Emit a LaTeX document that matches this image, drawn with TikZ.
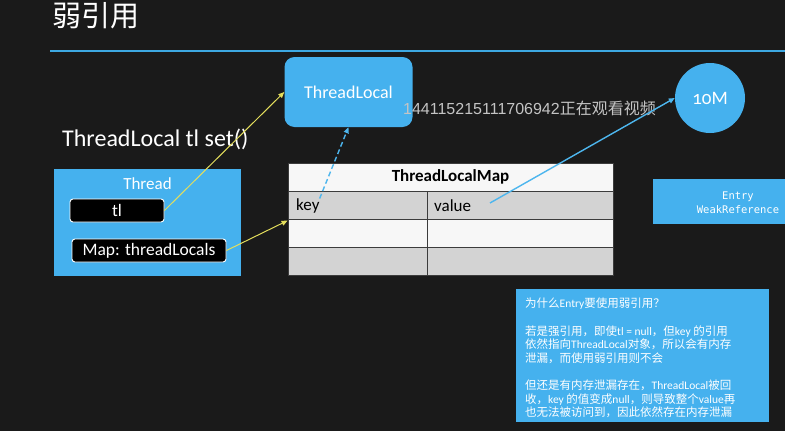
\documentclass[tikz,border=0pt]{standalone}
\usepackage{fontspec}
\setmainfont{Carlito}
\newfontfamily\cjk{Noto Sans CJK SC}
\newfontfamily\monofont{DejaVu Sans Mono}
\newfontfamily\wmfont{Liberation Sans}
\newfontfamily\oldnum{Carlito}[Numbers=OldStyle]
\usetikzlibrary{arrows.meta}
\definecolor{bg}{HTML}{1A1A1A}
\definecolor{sky}{HTML}{45B1EE}
\definecolor{skyline}{HTML}{3DA8E2}
\definecolor{arrowblue}{HTML}{4DB6EE}
\definecolor{yel}{HTML}{E4DE5C}
\definecolor{cellgray}{HTML}{D3D3D3}
\definecolor{cellwhite}{HTML}{F7F7F7}
\definecolor{gridc}{HTML}{3C3C3C}
\definecolor{wmgray}{HTML}{C4C4C4}
\newcommand\en[1]{{\rmfamily #1}}
\begin{document}
\begin{tikzpicture}[x=1pt,y=-1pt,
  bluebox/.style={fill=sky, draw=none, inner sep=0pt},
  darkbox/.style={fill=black, draw=white, line width=0.9pt, rounded corners=3pt, text=white, inner sep=0pt, font=\fontsize{17.5}{20}\selectfont},
  cell/.style={draw=gridc, line width=0.8pt, inner sep=0pt, minimum height=28pt},
  celltext/.style={inner sep=0pt, text=black, font=\fontsize{17}{20}\selectfont},
  yarrow/.style={draw=yel, line width=1pt, -{Triangle[length=6pt,width=5pt]}},
  barrow/.style={draw=arrowblue, line width=1.4pt, -{Triangle[length=6pt,width=5pt]}},
  wtext/.style={text=white, inner sep=0pt}]
\fill[bg] (0,0) rectangle (785,431);
\useasboundingbox (0,0) rectangle (785,431);
% title
\node[wtext, anchor=base west, font=\cjk\fontsize{29}{31}\selectfont] (title) at (52,26) {弱引用};
\draw[skyline, line width=2pt] (50,51) -- (785,51);
% ThreadLocal box
\node[bluebox, rounded corners=10pt, minimum width=128pt, minimum height=70pt, text=white, font=\fontsize{18}{20}\selectfont] (tlbox) at (348.5,92) {ThreadLocal};
% watermark
\node[anchor=west, inner sep=0pt, text=wmgray, font=\fontsize{16}{18}\selectfont] (wm) at (403,108) {{\wmfont 144115215111706942}{\cjk 正在观看视频}};
% 10M circle
\node[bluebox, circle, minimum size=70pt, text=white, font=\oldnum\fontsize{19}{20}\selectfont] (circ) at (710,98) {10M};
% statement
\node[wtext, anchor=west, font=\fontsize{24}{26}\selectfont] (stmt) at (62,139) {ThreadLocal tl set()};
% Thread box
\node[bluebox, anchor=north west, minimum width=187pt, minimum height=107pt] (thread) at (54,169) {};
\node[wtext, font=\fontsize{17}{20}\selectfont] (threadlbl) at (147.5,184) {Thread};
\node[darkbox, minimum width=94pt, minimum height=23pt] (tl) at (117,210.5) {tl};
\node[darkbox, minimum width=154pt, minimum height=23pt] (map) at (149,250.5) {Map: threadLocals};
% table
\node[cell, fill=cellwhite, minimum width=325pt] (hdr) at (450.5,177) {};
\node[celltext, font=\bfseries\fontsize{17}{20}\selectfont] (hdrtext) at (450.5,177) {ThreadLocalMap};
\node[cell, fill=cellgray, minimum width=139pt] (c11) at (357.5,205) {};
\node[cell, fill=cellgray, minimum width=186pt] (c12) at (520,205) {};
\node[cell, fill=cellwhite, minimum width=139pt] (c21) at (357.5,233) {};
\node[cell, fill=cellwhite, minimum width=186pt] (c22) at (520,233) {};
\node[cell, fill=cellgray, minimum width=139pt] (c31) at (357.5,261) {};
\node[cell, fill=cellgray, minimum width=186pt] (c32) at (520,261) {};
\node[celltext, anchor=west] (key) at (296,206) {key};
\node[celltext, anchor=west] (value) at (434,206) {value};
\coordinate (vstart) at (490,203);
% Entry box
\node[bluebox, anchor=north west, minimum width=132pt, minimum height=45pt] (entry) at (653,179) {};
\node[wtext, align=center, font=\monofont\fontsize{10.5}{13.5}\selectfont] (entrytext) at (738,202.5) {Entry\\WeakReference};
% explanation box
\node[bluebox, anchor=north west, minimum width=253pt, minimum height=133pt] (expbox) at (516,289) {};
\node[wtext, anchor=north west, align=left, font=\cjk\fontsize{11.5}{13.6}\selectfont] (exptext) at (525,298) {%
为什么\en{Entry}要使用弱引用？\\[13.6pt]
若是强引用，即使\en{tl = null}，但\en{key} 的引用\\
依然指向\en{ThreadLocal}对象，所以会有内存\\
泄漏，而使用弱引用则不会\\[13.6pt]
但还是有内存泄漏存在，\en{ThreadLocal}被回\\
收，\en{key} 的值变成\en{null}，则导致整个\en{value}再\\
也无法被访问到，因此依然存在内存泄漏};
% connectors
\draw[yarrow] (tl.east) -- (tlbox.west);
\draw[yarrow] (map.east) -- ([yshift=-2pt]c21.north west);
\draw[barrow, dash pattern=on 5pt off 3pt] (key.north east) -- (tlbox.south);
\draw[barrow] (vstart) -- (circ.west);
\end{tikzpicture}
\end{document}
